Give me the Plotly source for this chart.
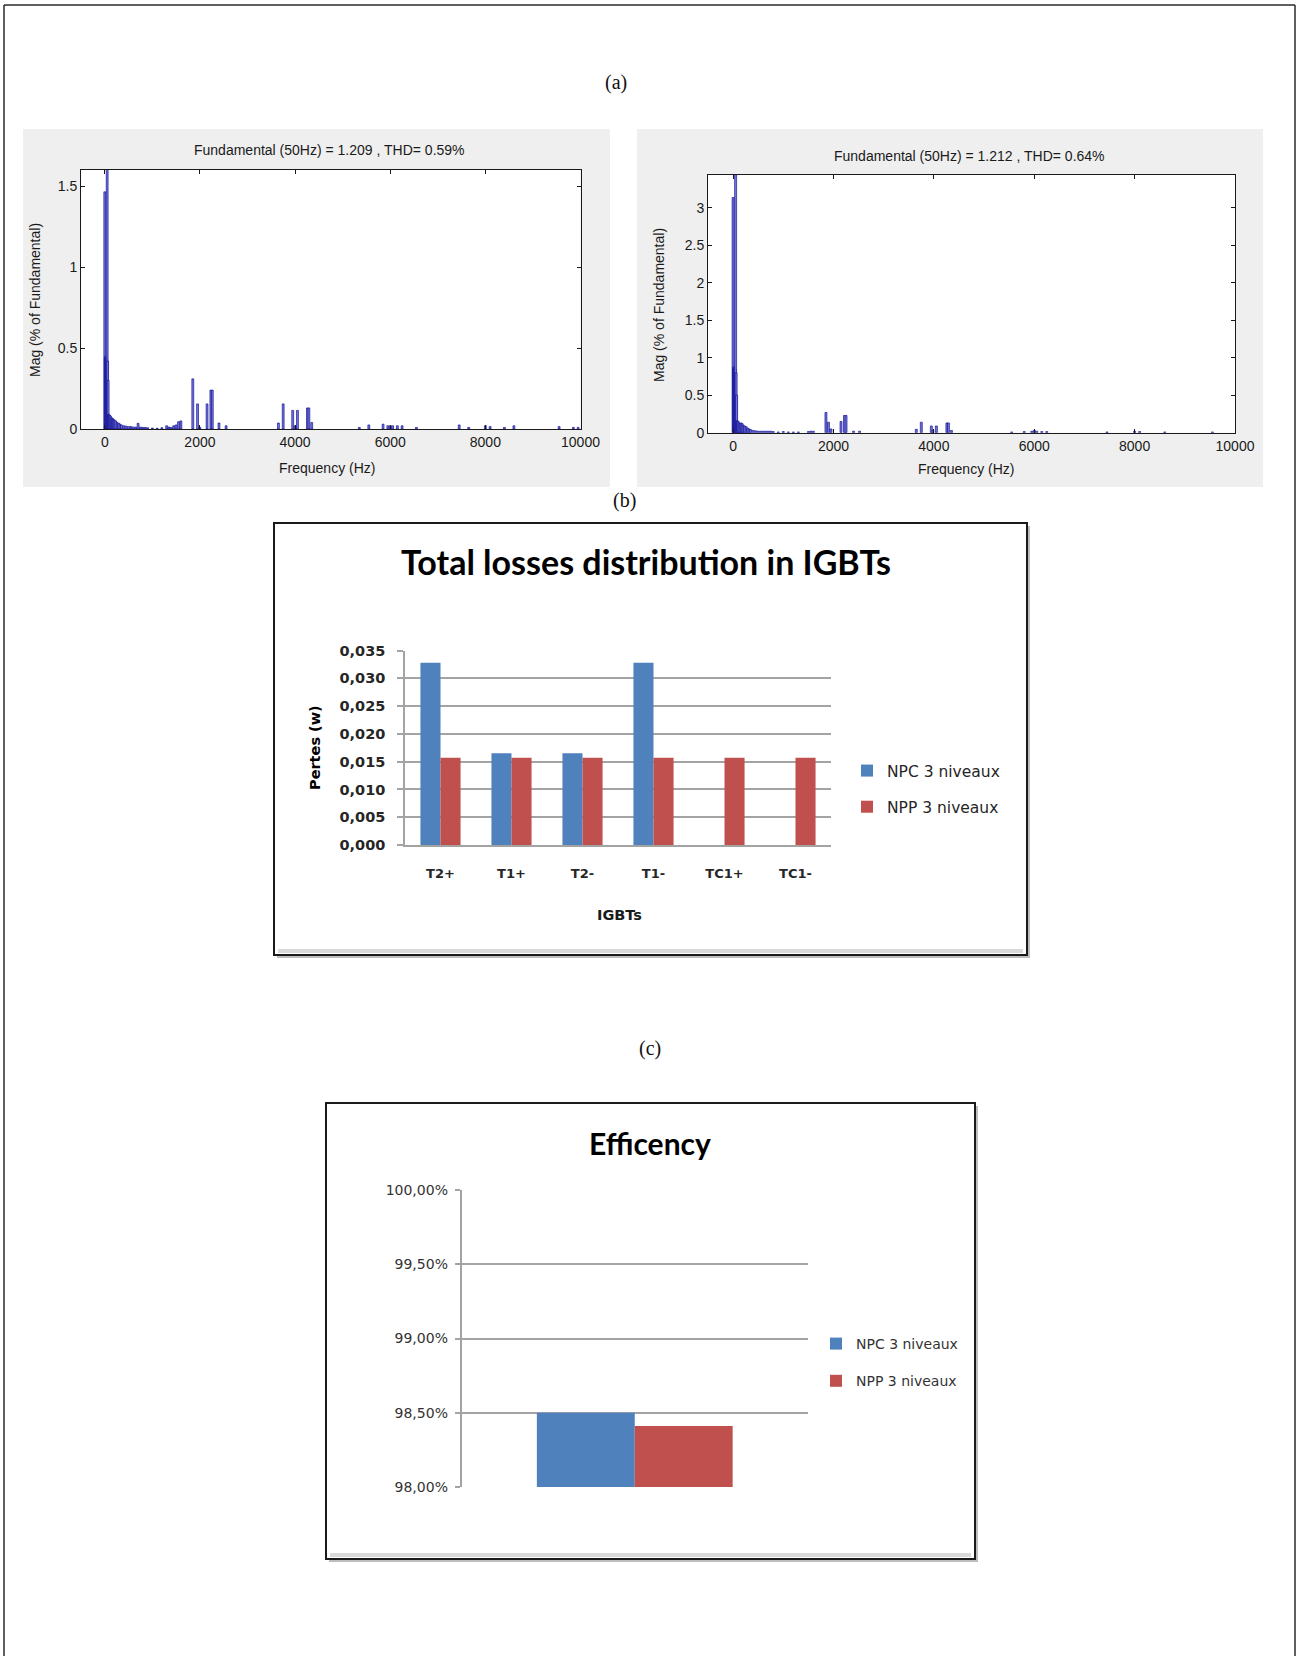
import plotly.graph_objects as go

W, H = 1299, 1656

# ---------------- DATA ----------------
# (a) FFT spectra (harmonic frequency in Hz, magnitude in % of fundamental)
freq_left = [0, 10, 20, 30, 40, 50, 60, 70, 80, 90,
             100, 120, 140, 160, 180, 200, 230, 260, 290, 320,
             350, 400, 450, 500, 550, 600, 650, 700, 750, 800,
             850, 900, 1000, 1100, 1200, 1300, 1350, 1400, 1450, 1500,
             1550, 1600, 1850, 1950, 2000, 2150, 2230, 2260, 2400, 2550,
             3650, 3750, 3950, 4000, 4050, 4260, 4290, 4350, 5350, 5550,
             5850, 5950, 6000, 6050, 6150, 6250, 6550, 7450, 7650, 8000,
             8100, 8400, 8600, 9550, 9850, 9950]
mag_left = [1.465, 0.44, 0.45, 0.44, 0.43, 100.0, 0.42, 0.30, 0.09, 0.085,
            0.085, 0.08, 0.07, 0.065, 0.06, 0.055, 0.05, 0.04, 0.035, 0.03,
            0.025, 0.02, 0.018, 0.015, 0.015, 0.012, 0.012, 0.035, 0.012, 0.01,
            0.01, 0.008, 0.006, 0.005, 0.008, 0.02, 0.012, 0.01, 0.02, 0.025,
            0.045, 0.05, 0.31, 0.155, 0.01, 0.155, 0.24, 0.24, 0.037, 0.02,
            0.037, 0.155, 0.115, 0.02, 0.115, 0.13, 0.13, 0.04, 0.01, 0.025,
            0.03, 0.02, 0.02, 0.02, 0.02, 0.02, 0.01, 0.025, 0.01, 0.02,
            0.015, 0.01, 0.02, 0.015, 0.01, 0.01]

freq_right = [0, 10, 20, 30, 40, 50, 60, 70, 80, 90,
              100, 120, 140, 160, 180, 200, 230, 260, 290, 320,
              350, 400, 450, 500, 550, 600, 650, 700, 750, 800,
              900, 1000, 1100, 1200, 1300, 1500, 1550, 1600, 1850, 1900,
              1950, 2150, 2220, 2250, 2400, 2520, 3650, 3750, 3950, 3980,
              4050, 4260, 4290, 4350, 5550, 5800, 5950, 6000, 6050, 6150,
              6250, 7450, 8000, 8100, 8600, 9550]
mag_right = [3.14, 0.87, 0.88, 0.86, 0.85, 100.0, 0.80, 0.50, 0.16, 0.15,
             0.15, 0.13, 0.12, 0.13, 0.12, 0.10, 0.09, 0.08, 0.06, 0.05,
             0.04, 0.03, 0.025, 0.02, 0.02, 0.02, 0.02, 0.02, 0.02, 0.015,
             0.01, 0.015, 0.01, 0.01, 0.01, 0.015, 0.02, 0.02, 0.27, 0.14,
             0.05, 0.15, 0.23, 0.23, 0.02, 0.02, 0.045, 0.14, 0.09, 0.03,
             0.09, 0.13, 0.13, 0.03, 0.01, 0.015, 0.02, 0.03, 0.02, 0.015,
             0.015, 0.01, 0.02, 0.015, 0.01, 0.01]

title_left = "Fundamental (50Hz) = 1.209 , THD= 0.59%"
title_right = "Fundamental (50Hz) = 1.212 , THD= 0.64%"
spec_xticks = [0, 2000, 4000, 6000, 8000, 10000]
spec_xticktext = ["0", "2000", "4000", "6000", "8000", "10000"]
spec_left_yticks = [0, 0.5, 1, 1.5]
spec_left_yticktext = ["0", "0.5", "1", "1.5"]
spec_right_yticks = [0, 0.5, 1, 1.5, 2, 2.5, 3]
spec_right_yticktext = ["0", "0.5", "1", "1.5", "2", "2.5", "3"]

# (b) losses per IGBT
igbts = ["T2+", "T1+", "T2-", "T1-", "TC1+", "TC1-"]
losses_npc = [0.0328, 0.0165, 0.0165, 0.0328, 0.0, 0.0]
losses_npp = [0.0157, 0.0157, 0.0157, 0.0157, 0.0157, 0.0157]
loss_ticks = [0.0, 0.005, 0.010, 0.015, 0.020, 0.025, 0.030, 0.035]
loss_ticktext = ["0,000", "0,005", "0,010", "0,015", "0,020", "0,025", "0,030", "0,035"]

# (c) efficiency
eff_cat = ["Efficiency"]
eff_npc = [98.50]
eff_npp = [98.41]
eff_ticks = [98.0, 98.5, 99.0, 99.5, 100.0]
eff_ticktext = ["98,00%", "98,50%", "99,00%", "99,50%", "100,00%"]

series = ["NPC 3 niveaux", "NPP 3 niveaux"]
BLUE, RED = "#4F81BD", "#C0504D"

# ---------------- helpers ----------------
def X(p):
    return p / W

def Y(p):
    return 1 - p / H

def dom_x(a, b):
    return [X(a), X(b)]

def dom_y(top, bottom):
    return [Y(bottom), Y(top)]

ML_FONT = "Liberation Sans, Arial, sans-serif"
XL_FONT = "Lato, Open Sans, sans-serif"
WIDE = "DejaVu Sans, Verdana, sans-serif"
SERIF = "Liberation Serif, DejaVu Serif, serif"

fig = go.Figure()

# spectra
spec_marker = dict(color="#7676d8", line=dict(color="#00008b", width=0.6))
fig.add_trace(go.Bar(x=freq_left, y=mag_left, width=40, marker=spec_marker,
                     xaxis="x", yaxis="y", showlegend=False))
fig.add_trace(go.Bar(x=freq_right, y=mag_right, width=40, marker=spec_marker,
                     xaxis="x2", yaxis="y2", showlegend=False))

# (b)
fig.add_trace(go.Bar(x=igbts, y=losses_npc, name=series[0], marker_color=BLUE,
                     xaxis="x3", yaxis="y3", legend="legend", legendgroup="b1"))
fig.add_trace(go.Bar(x=igbts, y=losses_npp, name=series[1], marker_color=RED,
                     xaxis="x3", yaxis="y3", legend="legend", legendgroup="b2"))
# (c)
fig.add_trace(go.Bar(x=eff_cat, y=eff_npc, name=series[0], marker_color=BLUE,
                     xaxis="x4", yaxis="y4", legend="legend2", legendgroup="c1"))
fig.add_trace(go.Bar(x=eff_cat, y=eff_npp, name=series[1], marker_color=RED,
                     xaxis="x4", yaxis="y4", legend="legend2", legendgroup="c2"))

ml_tick = dict(family=ML_FONT, size=14, color="#1a1a1a")
ml_axis = dict(showline=True, linecolor="#1a1a1a", linewidth=1, mirror="ticks",
               ticks="inside", ticklen=4, tickcolor="#1a1a1a", showgrid=False,
               zeroline=False, tickfont=ml_tick, fixedrange=True, automargin=False)

xl_grid = "#a3a3a3"

fig.update_layout(
    template="none",
    width=W, height=H, autosize=False,
    margin=dict(l=0, r=0, t=0, b=0, pad=0, autoexpand=False),
    paper_bgcolor="white", plot_bgcolor="white",
    barmode="group", bargap=0.435, bargroupgap=0,
    xaxis=dict(domain=dom_x(81, 580.5), range=[-500, 10000], tickvals=spec_xticks,
               ticktext=spec_xticktext, anchor="y", **ml_axis),
    yaxis=dict(domain=dom_y(170, 429), range=[0, 1.6], tickvals=spec_left_yticks,
               ticktext=spec_left_yticktext, anchor="x", **ml_axis),
    xaxis2=dict(domain=dom_x(708, 1235), range=[-500, 10000], tickvals=spec_xticks,
                ticktext=spec_xticktext, anchor="y2", **ml_axis),
    yaxis2=dict(domain=dom_y(175, 432.7), range=[0, 3.44], tickvals=spec_right_yticks,
                ticktext=spec_right_yticktext, anchor="x2", **ml_axis),
    xaxis3=dict(domain=dom_x(405, 831), anchor="y3", type="category",
                showline=True, linecolor=xl_grid, linewidth=1.5, ticks="",
                showgrid=False, zeroline=False, ticklabelstandoff=16, automargin=False,
                tickfont=dict(family=WIDE, size=13, color="#262626", weight="bold"),
                fixedrange=True),
    yaxis3=dict(domain=dom_y(650.5, 845), anchor="x3", range=[0, 0.035],
                tickvals=loss_ticks, ticktext=loss_ticktext,
                showgrid=True, gridcolor=xl_grid, gridwidth=1.5,
                showline=True, linecolor=xl_grid, linewidth=1.5,
                ticks="outside", ticklen=6, tickcolor=xl_grid, tickwidth=1.5,
                zeroline=False, ticklabelstandoff=9, automargin=False,
                tickfont=dict(family=WIDE, size=14.5, color="#262626", weight="bold"),
                fixedrange=True),
    xaxis4=dict(domain=dom_x(461.5, 808), anchor="y4", type="category",
                showline=False, ticks="", showticklabels=False, automargin=False,
                showgrid=False, zeroline=False, fixedrange=True),
    yaxis4=dict(domain=dom_y(1190, 1487), anchor="x4", range=[98, 100],
                tickvals=eff_ticks, ticktext=eff_ticktext,
                showgrid=True, gridcolor=xl_grid, gridwidth=1.5,
                showline=True, linecolor=xl_grid, linewidth=1.5,
                ticks="outside", ticklen=5, tickcolor=xl_grid, tickwidth=1.5,
                zeroline=False, ticklabelstandoff=4, automargin=False,
                tickfont=dict(family=WIDE, size=14, color="#333333"),
                fixedrange=True),
    legend=dict(x=X(847), y=Y(754), xanchor="left", yanchor="top",
                bgcolor="rgba(0,0,0,0)", tracegroupgap=13, itemwidth=30,
                font=dict(family=WIDE, size=15.5, color="#262626")),
    legend2=dict(x=X(816), y=Y(1328), xanchor="left", yanchor="top",
                 bgcolor="rgba(0,0,0,0)", tracegroupgap=16, itemwidth=30,
                 font=dict(family=WIDE, size=14, color="#333333")),
)

shapes = []
# page border
for (x0, y0, x1, y1) in [(4, 5, 1295, 5), (4, 5, 4, H), (1295, 5, 1295, H)]:
    shapes.append(dict(type="line", xref="paper", yref="paper", x0=X(x0), y0=Y(y0),
                       x1=X(x1), y1=Y(y1), line=dict(color="#2a2a2a", width=1.5)))
# matlab gray panels + white axes areas
for (gx0, gy0, gx1, gy1, ax0, ay0, ax1, ay1) in [
        (23, 129, 610, 487, 81, 170, 580.5, 429),
        (637, 129, 1263, 487, 708, 175, 1235, 432.7)]:
    shapes.append(dict(type="rect", xref="paper", yref="paper", layer="below",
                       x0=X(gx0), y0=Y(gy1), x1=X(gx1), y1=Y(gy0),
                       fillcolor="#efefef", line=dict(width=0)))
    shapes.append(dict(type="rect", xref="paper", yref="paper", layer="below",
                       x0=X(ax0), y0=Y(ay1), x1=X(ax1), y1=Y(ay0),
                       fillcolor="white", line=dict(width=0)))
# excel chart frames
for (bx0, by0, bx1, by1) in [(274, 523, 1027, 955), (326, 1103, 975, 1559)]:
    shapes.append(dict(type="rect", xref="paper", yref="paper", layer="below",
                       x0=X(bx0 + 3), y0=Y(by1 + 3), x1=X(bx1 + 3), y1=Y(by0 + 3),
                       fillcolor="#bdbdbd", line=dict(width=0)))
    shapes.append(dict(type="rect", xref="paper", yref="paper", layer="below",
                       x0=X(bx0), y0=Y(by1), x1=X(bx1), y1=Y(by0),
                       fillcolor="white", line=dict(color="#1a1a1a", width=2)))
    shapes.append(dict(type="line", xref="paper", yref="paper", layer="below",
                       x0=X(bx0 + 4), y0=Y(by1 - 4), x1=X(bx1 - 4), y1=Y(by1 - 4),
                       line=dict(color="#d9d9d9", width=4)))
fig.update_layout(shapes=shapes)

ann = []
def text(x, y, s, size, family, color="#1a1a1a", bold=False, angle=0):
    ann.append(dict(x=X(x), y=Y(y), xref="paper", yref="paper", text=s,
                    showarrow=False, xanchor="center", yanchor="middle",
                    textangle=angle,
                    font=dict(family=family, size=size, color=color,
                              weight="bold" if bold else "normal")))

text(616, 82, "(a)", 20, SERIF, "#111111")
text(624, 500, "(b)", 20, SERIF, "#111111")
text(650, 1048, "(c)", 20, SERIF, "#111111")
text(329, 150, title_left, 14, ML_FONT)
text(969, 156, title_right, 14, ML_FONT)
text(327, 468, "Frequency (Hz)", 14, ML_FONT)
text(966, 469, "Frequency (Hz)", 14, ML_FONT)
text(35, 300, "Mag (% of Fundamental)", 14, ML_FONT, angle=-90)
text(659, 305, "Mag (% of Fundamental)", 14, ML_FONT, angle=-90)
text(646, 562, "Total losses distribution in IGBTs", 34, XL_FONT, "#000000", bold=True)
text(315, 748, "Pertes (w)", 14.5, WIDE, "#000000", bold=True, angle=-90)
text(619, 915, "IGBTs", 14.5, WIDE, "#1a1a1a", bold=True)
text(650, 1143, "Efficency", 30, XL_FONT, "#000000", bold=True)
fig.update_layout(annotations=ann)

fig.write_html(
    "out.html",
    config={"displayModeBar": False},
    post_script=("document.documentElement.style.overflow='hidden';"
                 "document.body.style.margin='0';"
                 "document.body.style.overflow='hidden';"),
)
